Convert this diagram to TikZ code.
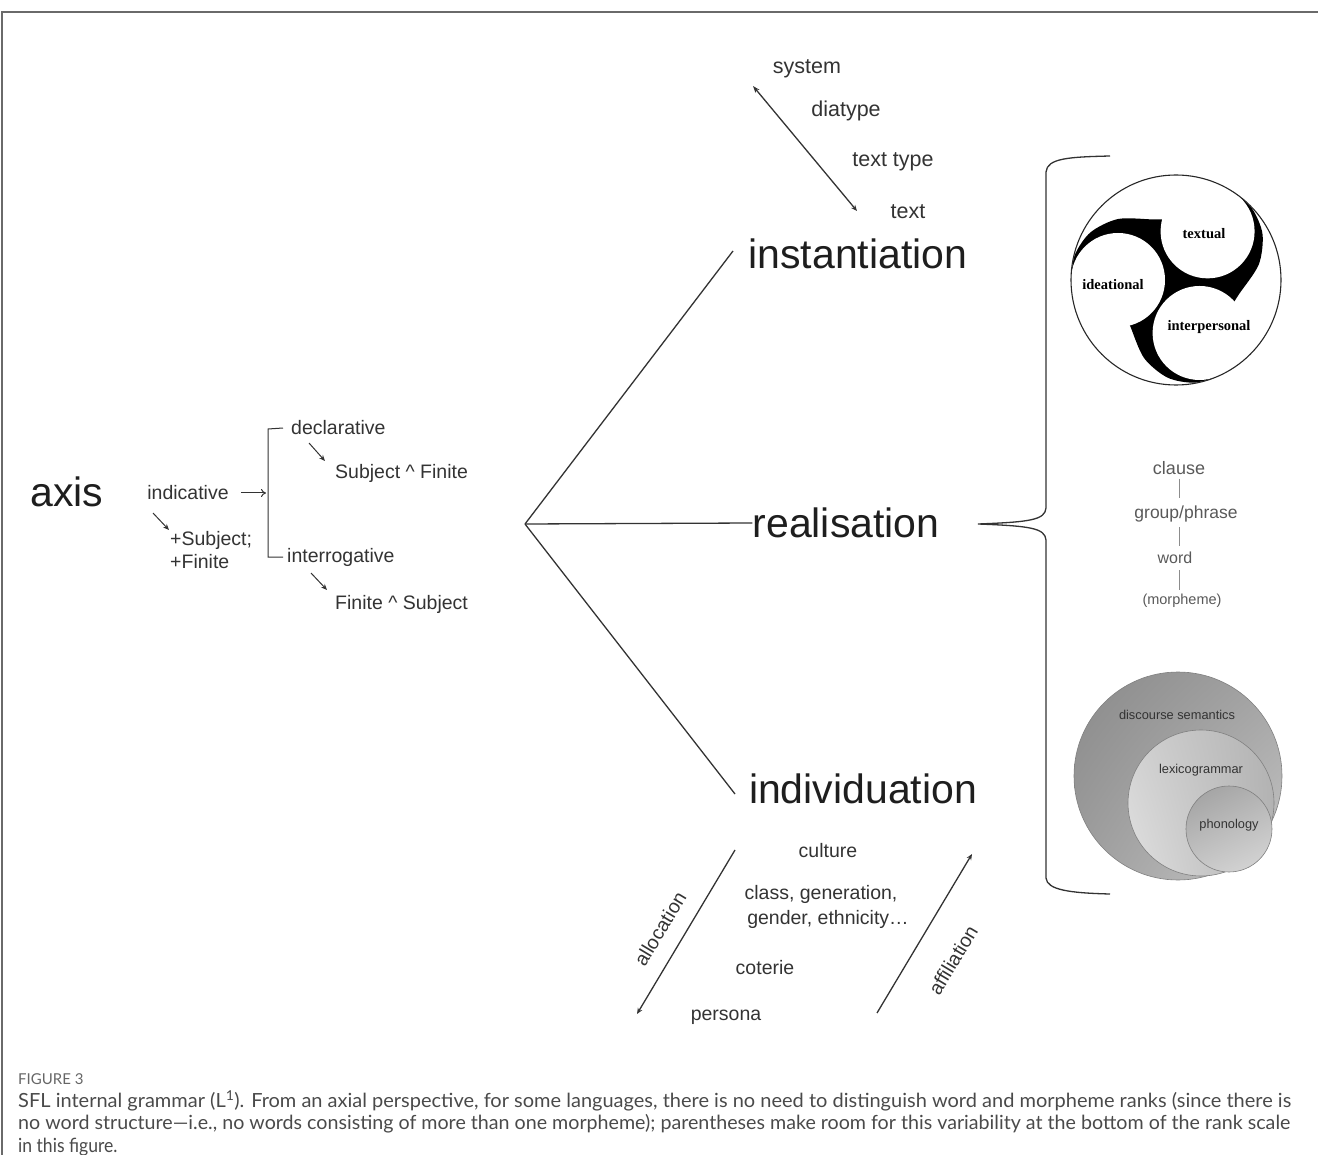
\documentclass[tikz,border=0pt]{standalone}
\usepackage{fontspec}
\setmainfont{Liberation Sans}
\newfontfamily\trifont{Liberation Serif}
\newfontfamily\capfont{Lato}
\usetikzlibrary{arrows.meta,calc,shadings}
\definecolor{ink}{HTML}{1E1E1E}
\definecolor{soft}{HTML}{333333}
\definecolor{capgray}{HTML}{4A4A4A}
\definecolor{framegray}{HTML}{6A6A6A}
\begin{document}
\begin{tikzpicture}[x=1pt,y=-1pt,
  big/.style={font=\fontsize{41}{49}\selectfont, text=ink, inner sep=0pt},
  small/.style={font=\fontsize{19.5}{23}\selectfont, text=soft, inner sep=0pt},
  topword/.style={font=\fontsize{21.5}{26}\selectfont, text=soft, inner sep=0pt},
  rankword/.style={text=black!65, inner sep=0pt},
  triword/.style={font=\trifont\bfseries\fontsize{14.5}{16}\selectfont, inner sep=0pt},
  vennword/.style={font=\fontsize{12.8}{15}\selectfont, text=black!80, inner sep=0pt},
  link/.style={draw=soft, line width=1.3pt},
  thin/.style={draw=soft, line width=1pt},
  head/.style={-{Stealth[length=6pt,width=5pt]}},
  caption/.style={font=\capfont\fontsize{19.5}{23}\selectfont, text=capgray, inner sep=0pt, anchor=west}
]
\useasboundingbox (0,0) rectangle (1318,1155);

% page frame (top and left rule)
\draw[framegray, line width=1.6pt] (2,1155) -- (2,12) -- (1318,12);

% ---------- axis: the system network ----------
\node[big] (axis) at (67,492) {axis};
\node[small] (indic) at (188,493) {indicative};
\node[small, anchor=west] (subj) at (170,540) {+Subject;};
\node[small, anchor=west] (fin) at (170,562) {+Finite};
\coordinate (brTop) at (268,429);
\coordinate (brBot) at (268,557);
\coordinate (brMid) at (266,493);
\node[small, anchor=west] (decl) at (291,428) {declarative};
\node[small, anchor=west] (inter) at (287,557) {interrogative};
\node[small, anchor=west] (sf) at (335,473) {Subject \^{} Finite};
\node[small, anchor=west] (fs) at (335,604) {Finite \^{} Subject};
\draw[thin] ($(decl.west)+(-8,0)$) -- (brTop) -- (brBot) -- ($(inter.west)+(-4,0)$);
\draw[thin, -{To[length=5pt,width=8pt]}] ($(indic.east)+(12,0)$) -- (brMid);
\draw[thin, head] (153,513) -- (169,530);
\draw[thin, head] (309,443) -- (325,461);
\draw[thin, head] (311,573) -- (327,590);

% ---------- the three hierarchies ----------
\coordinate (hub) at (525,524);
\node[big] (inst) at (858,254) {instantiation};
\node[big] (real) at (846,523) {realisation};
\node[big] (indiv) at (863,789) {individuation};
\coordinate (instEnd) at (733,251);
\coordinate (indivEnd) at (735,794);
\draw[link] (hub) -- (instEnd);
\draw[link] (hub) -- (real.west);
\draw[link] (hub) -- (indivEnd);

% instantiation cline
\node[topword] (sys) at (807,69) {system};
\node[topword] (dia) at (846,111) {diatype};
\node[topword] (tt) at (893,162) {text type};
\node[topword] (txt) at (908,212) {text};
\coordinate (clTop) at (753,86);
\coordinate (clBot) at (857,211);
\draw[link, {Stealth[length=7pt,width=5pt]}-{Stealth[length=6pt,width=5pt]}] (clTop) -- (clBot);

% individuation hierarchy
\node[small] (cult) at (828,851) {culture};
\node[small] (cls1) at (821,894) {class, generation,};
\node[small] (cls2) at (828,919) {gender, ethnicity\ldots};
\node[small] (cot) at (765,968) {coterie};
\node[small] (pers) at (726,1017) {persona};
\coordinate (alTop) at (735,850);
\coordinate (alBot) at (637,1014);
\coordinate (afBot) at (877,1013);
\coordinate (afTop) at (972,854);
\draw[link, head] (alTop) -- (alBot);
\draw[link, head] (afBot) -- (afTop);
\node[small, rotate=59] (alloc) at (660,929) {allocation};
\node[small, rotate=59] (affil) at (953,960) {affiliation};

% ---------- brace gathering the three realisation views ----------
\draw[link] (1110,156) .. controls (1070,157) and (1047,158) .. (1046,172)
  -- (1046,508) .. controls (1045,520) and (1030,522) .. (978,524)
  .. controls (1030,526) and (1045,528) .. (1046,540)
  -- (1046,878) .. controls (1047,890) and (1070,893) .. (1110,894);

% metafunctions: three white discs carved out of a black three-bladed swirl
\begin{scope}[shift={(1176,280)}]
  \begin{scope}
    \clip (0,0) circle (105);
    \fill[black] (180:105)
      \foreach \p in {180,303,66} {
        -- plot[smooth] coordinates {(\p:105) (\p+13.9:104.3) (\p+29.1:97.9)
             (\p+46.4:84.2) (\p+69.2:64.8) (\p+80.1:61.6)}
      } -- cycle;
    \foreach \p in {180,303,66} {
      \fill[white] (\p:58) circle (47);
    }
  \end{scope}
  \draw[black!85, line width=1.1pt] (0,0) circle (105);
\end{scope}
\node[triword] (textual) at (1204,234) {textual};
\node[triword] (ideat) at (1113,285) {ideational};
\node[triword] (interp) at (1209,327) {interpersonal};

% rank scale
\node[rankword, font=\fontsize{18}{21}\selectfont] (clause) at (1179,468) {clause};
\node[rankword, font=\fontsize{17.5}{21}\selectfont] (group) at (1186,514) {group/phrase};
\node[rankword, font=\fontsize{16}{19}\selectfont] (word) at (1175,558) {word};
\node[rankword, font=\fontsize{14.5}{17}\selectfont] (morph) at (1182,601) {(morpheme)};
\draw[black!45, line width=0.9pt] (clause.south) ++(0,4) -- ++(0,19);
\draw[black!45, line width=0.9pt] (1179,527) -- (1179,546);
\draw[black!45, line width=0.9pt] (1179,570) -- (1179,590);

% stratification
\shade[upper left=black!46, upper right=black!36, lower left=black!38, lower right=black!22]
  (1178,776) circle (104);
\draw[black!50, line width=0.6pt] (1178,776) circle (104);
\shade[upper left=black!18, upper right=black!30, lower left=black!12, lower right=black!30]
  (1201,803) circle (73);
\draw[black!50, line width=0.6pt] (1201,803) circle (73);
\shade[upper left=black!38, upper right=black!30, lower left=black!22, lower right=black!15]
  (1229,829) circle (43);
\draw[black!50, line width=0.6pt] (1229,829) circle (43);
\node[vennword] (disc) at (1177,715) {discourse semantics};
\node[vennword] (lexi) at (1201,770) {lexicogrammar};
\node[vennword] (phon) at (1229,825) {phonology};

% ---------- caption ----------
\node[font=\capfont\fontsize{15}{17}\selectfont, text=black!60, inner sep=0pt, anchor=west] (figlab) at (18,1079) {FIGURE 3};
\node[caption] (cap1) at (18,1101) {\resizebox{1273pt}{\height}{SFL internal grammar (L\textsuperscript{1}). From an axial perspective, for some languages, there is no need to distinguish word and morpheme ranks (since there is}};
\node[caption] (cap2) at (18,1124) {\resizebox{1272pt}{\height}{no word structure—i.e., no words consisting of more than one morpheme); parentheses make room for this variability at the bottom of the rank scale}};
\node[caption] (cap3) at (18,1147) {\scalebox{0.9}[1]{in this figure.}};
\end{tikzpicture}
\end{document}
